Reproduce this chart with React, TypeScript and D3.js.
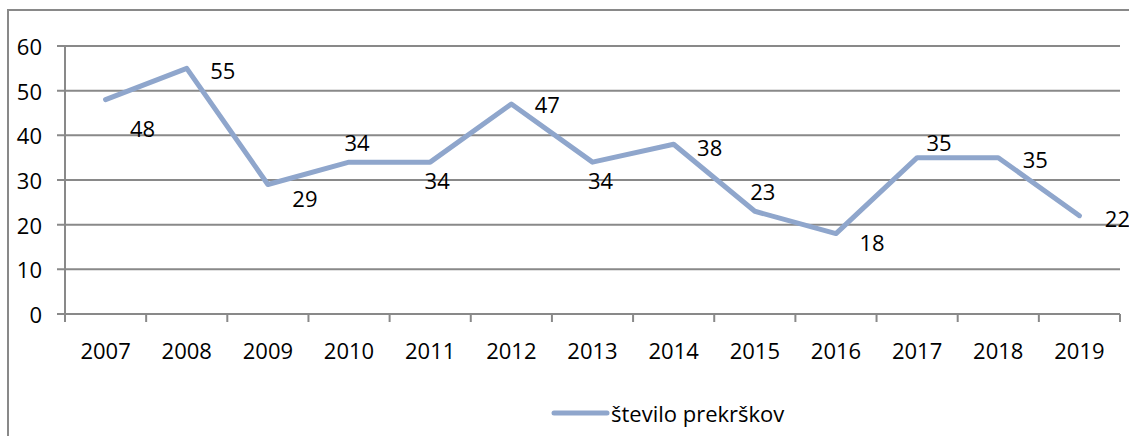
import * as d3 from "d3";

const years = ["2007", "2008", "2009", "2010", "2011", "2012", "2013", "2014", "2015", "2016", "2017", "2018", "2019"];
const prekrski = [48, 55, 29, 34, 34, 47, 34, 38, 23, 18, 35, 35, 22];
const yTicks = [0, 10, 20, 30, 40, 50, 60];
const seriesName = "število prekrškov";

// where each data label sits relative to its point (px)
const labelDx = [37, 36, 37, 8, 7, 36, 8, 36, 8, 36, 22, 37, 38];
const labelDy = [28, 2, 14, -20, 18, 0, 18, 3, -20, 8, -16, 1, 2];

const W = 1129;
const H = 436;
const margin = { left: 65, right: 9, top: 46, bottom: 122 };
const font = "'Open Sans', 'Noto Sans', sans-serif";
const fs = 22;
const gridColor = "#898989";
const lineColor = "#8FA6CC";

export default function App() {
  const x = d3
    .scaleBand<string>()
    .domain(years)
    .range([margin.left, W - margin.right]);
  const y = d3
    .scaleLinear()
    .domain([0, 60])
    .range([H - margin.bottom, margin.top]);

  const line = d3
    .line<number>()
    .x((_, i) => (x(years[i]) ?? 0) + x.bandwidth() / 2)
    .y((d) => y(d));

  const boundaries = d3.range(years.length + 1).map((i) => margin.left + i * x.step());

  return (
    <svg
      width={W}
      height={H}
      style={{ position: "absolute", left: 0, top: 0, background: "#fff" }}
      fontFamily={font}
    >
      <rect x={8} y={10} width={1300} height={600} fill="none" stroke={gridColor} strokeWidth={2} />

      {yTicks.map((t) => (
        <g key={t}>
          <line x1={57} x2={W - margin.right} y1={y(t)} y2={y(t)} stroke={gridColor} strokeWidth={2} />
          <text x={42} y={y(t)} textAnchor="end" dominantBaseline="central" fontSize={fs} fill="#000">
            {t}
          </text>
        </g>
      ))}

      <line x1={margin.left} x2={margin.left} y1={margin.top} y2={y(0)} stroke={gridColor} strokeWidth={2} />
      {boundaries.map((b, i) => (
        <line key={i} x1={b} x2={b} y1={y(0)} y2={y(0) + 8} stroke={gridColor} strokeWidth={2} />
      ))}
      {years.map((yr) => (
        <text
          key={yr}
          x={(x(yr) ?? 0) + x.bandwidth() / 2}
          y={y(0) + 36}
          textAnchor="middle"
          dominantBaseline="central"
          fontSize={fs}
          fill="#000"
        >
          {yr}
        </text>
      ))}

      <path
        d={line(prekrski) ?? ""}
        fill="none"
        stroke={lineColor}
        strokeWidth={5}
        strokeLinejoin="round"
        strokeLinecap="round"
      />

      {prekrski.map((v, i) => (
        <text
          key={i}
          x={(x(years[i]) ?? 0) + x.bandwidth() / 2 + labelDx[i]}
          y={y(v) + labelDy[i]}
          textAnchor="middle"
          dominantBaseline="central"
          fontSize={fs}
          fill="#000"
        >
          {v}
        </text>
      ))}

      <line x1={554} x2={607} y1={413} y2={413} stroke={lineColor} strokeWidth={5} strokeLinecap="round" />
      <text x={611} y={413} dominantBaseline="central" fontSize={fs} fill="#000">
        {seriesName}
      </text>
    </svg>
  );
}
